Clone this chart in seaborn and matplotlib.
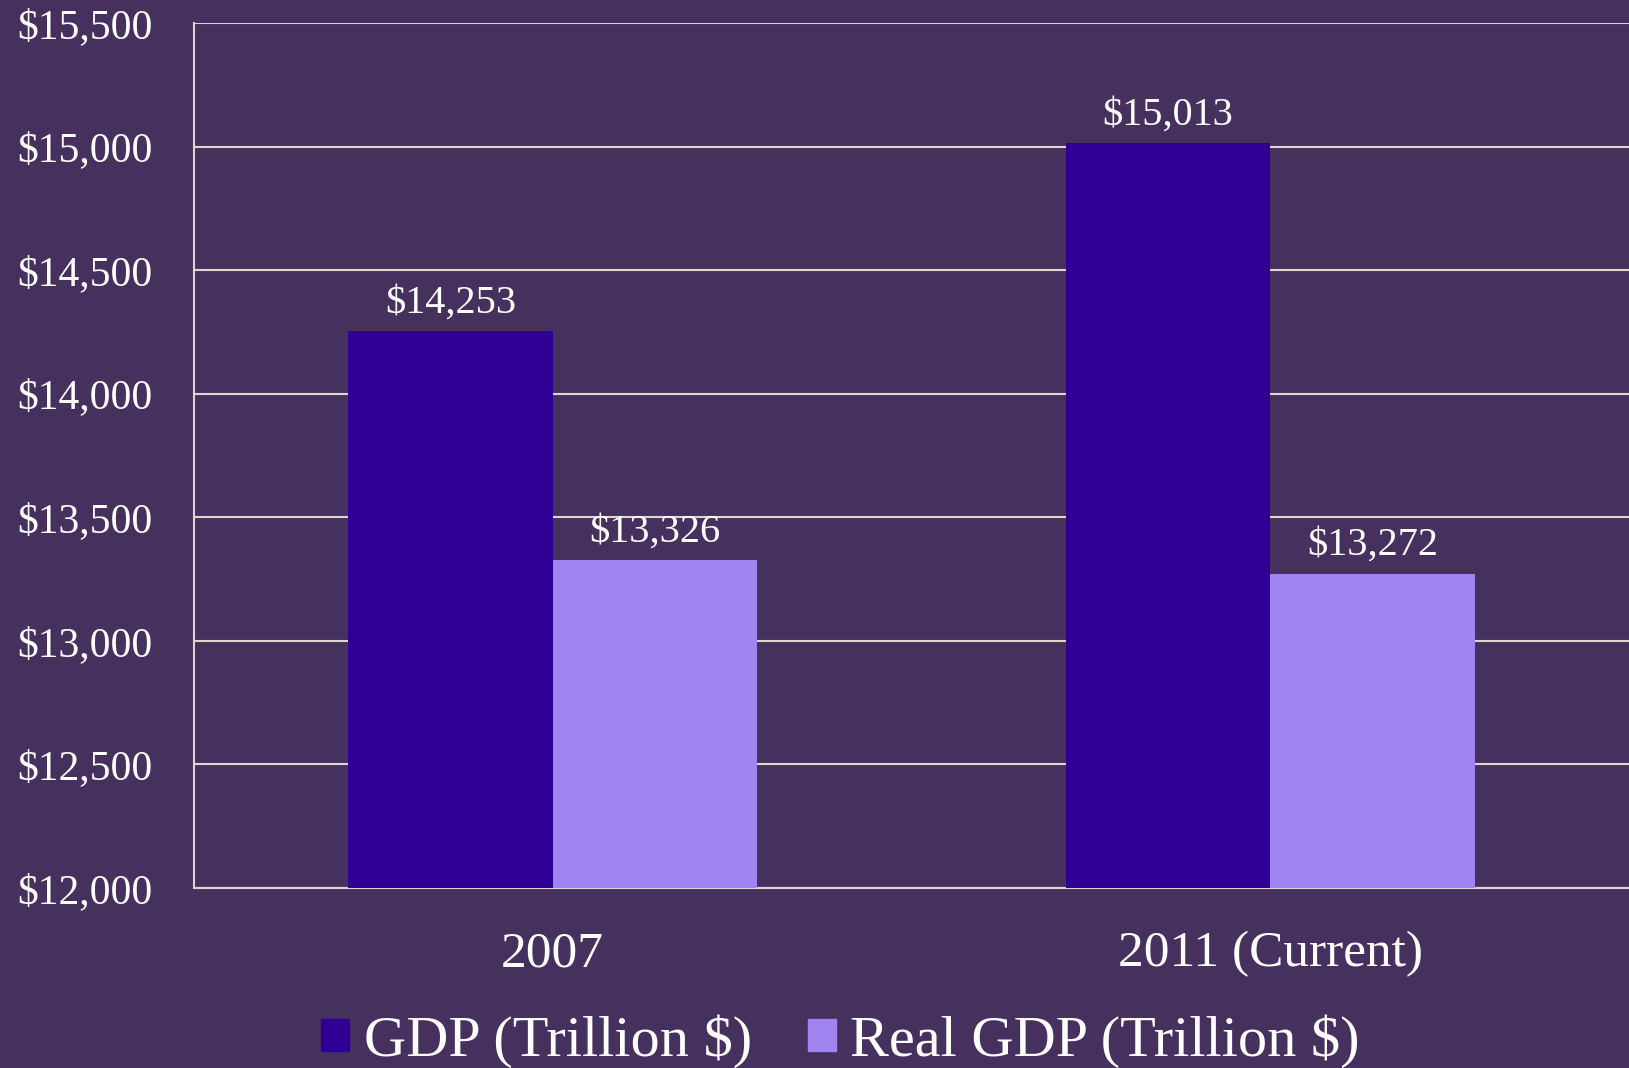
import pandas as pd
import matplotlib.pyplot as plt
import seaborn as sns

# values in billions
years = ["2007", "2011 (Current)"]
gdp = [14253, 15013]
real_gdp = [13326, 13272]
series = ["GDP (Trillion $)", "Real GDP (Trillion $)"]
colors = ["#300094", "#a084f2"]

BG = "#46305e"
GRID = "#ddd6cc"

sns.set_style("white")
plt.rcParams["font.family"] = ["Liberation Serif", "DejaVu Serif"]

df = pd.DataFrame({
    "year": years * 2,
    "value": gdp + real_gdp,
    "series": [series[0]] * len(years) + [series[1]] * len(years),
})

fig = plt.figure(figsize=(16.29, 10.68), dpi=100, facecolor=BG)
ax = fig.add_axes([0.119, 0.1685, 0.881, 0.81])
ax.set_facecolor(BG)

sns.barplot(data=df, x="year", y="value", hue="series", palette=colors,
            width=0.57, saturation=1, linewidth=0, ax=ax, zorder=3)

ax.set_ylim(12000, 15500)
ax.set_xlim(-0.5, 1.5)
ax.set_yticks(range(12000, 15501, 500))
ax.yaxis.set_major_formatter(lambda v, p: f"${v:,.0f}")
ax.grid(axis="y", color=GRID, linewidth=1.5, zorder=0)
ax.set_axisbelow(True)
for side in ["top", "right"]:
    ax.spines[side].set_visible(False)
for side in ["left", "bottom"]:
    ax.spines[side].set_color(GRID)
    ax.spines[side].set_linewidth(1.5)

ax.tick_params(axis="y", length=0, pad=30, labelsize=30, labelcolor="white")
ax.tick_params(axis="x", length=0, pad=31, labelsize=37, labelcolor="white")
ax.set_xlabel("")
ax.set_ylabel("")

for cont in ax.containers:
    ax.bar_label(cont, labels=[f"${v:,.0f}" for v in cont.datavalues],
                 padding=7, fontsize=29, color="white")

ax.get_legend().remove()
handles = [plt.Rectangle((0, 0), 1, 1, color=c) for c in colors]
fig.legend(handles, series, loc="center", bbox_to_anchor=(0.516, 0.025),
           ncol=2, frameon=False, fontsize=42, labelcolor="white",
           handlelength=0.48, handleheight=0.48, handletextpad=0.25,
           columnspacing=0.95, borderaxespad=0, borderpad=0)

fig.savefig("out.png", dpi=100, facecolor=BG)
